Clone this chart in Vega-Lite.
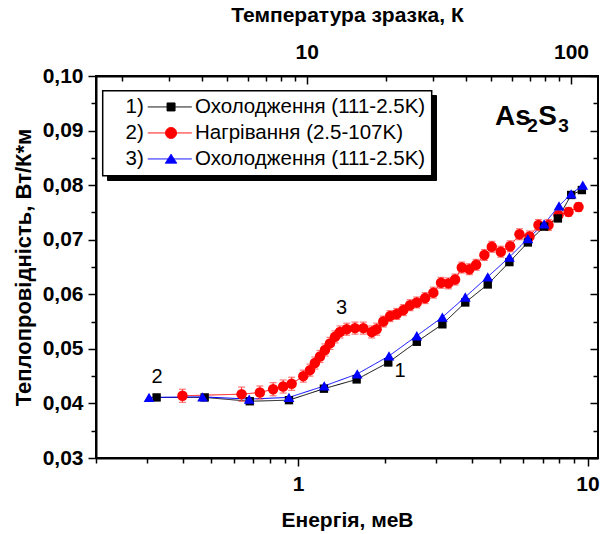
{
  "$schema": "https://vega.github.io/schema/vega-lite/v6.json",
  "width": 502,
  "height": 382,
  "autosize": {"type": "none"},
  "padding": {"left": 96, "top": 76, "right": 11, "bottom": 76},
  "background": "white",
  "config": {
    "view": {"stroke": "black", "strokeWidth": 2},
    "font": "Liberation Sans",
    "axis": {
      "grid": false,
      "domainColor": "black",
      "domainWidth": 2,
      "tickColor": "black",
      "tickWidth": 1.5,
      "labelColor": "black",
      "titleColor": "black",
      "labelFont": "Liberation Sans",
      "titleFont": "Liberation Sans",
      "labelFontSize": 21,
      "labelFontWeight": "bold",
      "titleFontSize": 21,
      "titleFontWeight": "bold"
    }
  },
  "datasets": {
    "d": [
      {"s": "s2", "E": 0.398, "v": 0.0414, "err": 0.0012},
      {"s": "s2", "E": 0.637, "v": 0.0417, "err": 0.0013},
      {"s": "s2", "E": 0.737, "v": 0.0420, "err": 0.0012},
      {"s": "s2", "E": 0.819, "v": 0.0426, "err": 0.0012},
      {"s": "s2", "E": 0.887, "v": 0.0431, "err": 0.0012},
      {"s": "s2", "E": 0.949, "v": 0.0436, "err": 0.0012},
      {"s": "s2", "E": 1.041, "v": 0.0450, "err": 0.0011},
      {"s": "s2", "E": 1.098, "v": 0.0461, "err": 0.0011},
      {"s": "s2", "E": 1.142, "v": 0.0474, "err": 0.0011},
      {"s": "s2", "E": 1.189, "v": 0.0486, "err": 0.0011},
      {"s": "s2", "E": 1.237, "v": 0.0498, "err": 0.0011},
      {"s": "s2", "E": 1.287, "v": 0.0510, "err": 0.0011},
      {"s": "s2", "E": 1.340, "v": 0.0522, "err": 0.0011},
      {"s": "s2", "E": 1.394, "v": 0.0531, "err": 0.0011},
      {"s": "s2", "E": 1.471, "v": 0.0536, "err": 0.0011},
      {"s": "s2", "E": 1.571, "v": 0.0538, "err": 0.0011},
      {"s": "s2", "E": 1.679, "v": 0.0538, "err": 0.0011},
      {"s": "s2", "E": 1.795, "v": 0.0531, "err": 0.0011},
      {"s": "s2", "E": 1.867, "v": 0.0536, "err": 0.0011},
      {"s": "s2", "E": 1.968, "v": 0.0550, "err": 0.0010},
      {"s": "s2", "E": 2.077, "v": 0.0560, "err": 0.0010},
      {"s": "s2", "E": 2.190, "v": 0.0564, "err": 0.0010},
      {"s": "s2", "E": 2.309, "v": 0.0571, "err": 0.0010},
      {"s": "s2", "E": 2.435, "v": 0.0580, "err": 0.0010},
      {"s": "s2", "E": 2.569, "v": 0.0585, "err": 0.0010},
      {"s": "s2", "E": 2.745, "v": 0.0593, "err": 0.0010},
      {"s": "s2", "E": 2.932, "v": 0.0603, "err": 0.0010},
      {"s": "s2", "E": 3.117, "v": 0.0621, "err": 0.0010},
      {"s": "s2", "E": 3.304, "v": 0.0620, "err": 0.0010},
      {"s": "s2", "E": 3.485, "v": 0.0627, "err": 0.0010},
      {"s": "s2", "E": 3.677, "v": 0.0649, "err": 0.0010},
      {"s": "s2", "E": 3.906, "v": 0.0646, "err": 0.0010},
      {"s": "s2", "E": 4.121, "v": 0.0654, "err": 0.0010},
      {"s": "s2", "E": 4.401, "v": 0.0672, "err": 0.0010},
      {"s": "s2", "E": 4.669, "v": 0.0687, "err": 0.0010},
      {"s": "s2", "E": 5.015, "v": 0.0678, "err": 0.0010},
      {"s": "s2", "E": 5.402, "v": 0.0688, "err": 0.0010},
      {"s": "s2", "E": 5.818, "v": 0.0710, "err": 0.0010},
      {"s": "s2", "E": 6.301, "v": 0.0706, "err": 0.0010},
      {"s": "s2", "E": 6.768, "v": 0.0727, "err": 0.0010},
      {"s": "s2", "E": 7.331, "v": 0.0727, "err": 0.0010},
      {"s": "s2", "E": 7.936, "v": 0.0745, "err": 0.0008},
      {"s": "s2", "E": 8.598, "v": 0.0751, "err": 0.0008},
      {"s": "s2", "E": 9.309, "v": 0.0760, "err": 0.0008},
      {"s": "s1", "E": 0.324, "v": 0.0411},
      {"s": "s1", "E": 0.475, "v": 0.0411},
      {"s": "s1", "E": 0.680, "v": 0.0404},
      {"s": "s1", "E": 0.929, "v": 0.0406},
      {"s": "s1", "E": 1.227, "v": 0.0427},
      {"s": "s1", "E": 1.592, "v": 0.0444},
      {"s": "s1", "E": 2.048, "v": 0.0475},
      {"s": "s1", "E": 2.57, "v": 0.0513},
      {"s": "s1", "E": 3.15, "v": 0.0545},
      {"s": "s1", "E": 3.78, "v": 0.0585},
      {"s": "s1", "E": 4.52, "v": 0.0618},
      {"s": "s1", "E": 5.37, "v": 0.0659},
      {"s": "s1", "E": 6.22, "v": 0.0695},
      {"s": "s1", "E": 7.08, "v": 0.0724},
      {"s": "s1", "E": 7.90, "v": 0.0739},
      {"s": "s1", "E": 8.78, "v": 0.0782},
      {"s": "s1", "E": 9.56, "v": 0.0791},
      {"s": "s3", "E": 0.305, "v": 0.0411},
      {"s": "s3", "E": 0.467, "v": 0.0412},
      {"s": "s3", "E": 0.677, "v": 0.0408},
      {"s": "s3", "E": 0.929, "v": 0.0411},
      {"s": "s3", "E": 1.23, "v": 0.0432},
      {"s": "s3", "E": 1.60, "v": 0.0454},
      {"s": "s3", "E": 2.06, "v": 0.0487},
      {"s": "s3", "E": 2.57, "v": 0.0524},
      {"s": "s3", "E": 3.15, "v": 0.0558},
      {"s": "s3", "E": 3.78, "v": 0.0595},
      {"s": "s3", "E": 4.52, "v": 0.0632},
      {"s": "s3", "E": 5.37, "v": 0.0668},
      {"s": "s3", "E": 6.22, "v": 0.0702},
      {"s": "s3", "E": 7.08, "v": 0.0729},
      {"s": "s3", "E": 7.97, "v": 0.0762},
      {"s": "s3", "E": 8.78, "v": 0.0784},
      {"s": "s3", "E": 9.63, "v": 0.0800}
    ],
    "ann": [
      {"E": 0.325, "v": 0.0448, "t": "2"},
      {"E": 1.413, "v": 0.0574, "t": "3"},
      {"E": 2.248, "v": 0.0460, "t": "1"}
    ],
    "formulaBig": [
      {"E": 4.79, "v": 0.0910, "t": "As"},
      {"E": 6.751, "v": 0.0910, "t": "S"}
    ],
    "formulaSub": [
      {"E": 6.184, "v": 0.0898, "t": "2"},
      {"E": 7.918, "v": 0.0898, "t": "3"}
    ]
  },
  "data": {"name": "d"},
  "layer": [
    {
      "encoding": {
        "x": {"field": "E", "type": "quantitative",
          "scale": {"type": "log", "domain": [0.2, 10.87], "nice": false},
          "axis": {"orient": "bottom", "values": [1, 10], "format": "d", "tickSize": 8, "labelPadding": 7.5,
            "title": "Енергія, меВ", "titlePadding": 15}},
        "y": {"field": "v", "type": "quantitative",
          "scale": {"domain": [0.03, 0.1], "nice": false, "zero": false},
          "axis": {"orient": "left", "values": [0.03, 0.04, 0.05, 0.06, 0.07, 0.08, 0.09, 0.1],
            "labelExpr": "replace(format(datum.value, '.2f'), '.', ',')",
            "tickSize": 8, "labelPadding": 5,
            "title": "Теплопровідність, Вт/К*м", "titleFontSize": 22, "titlePadding": 7}}
      },
      "layer": [
        {
          "mark": {"type": "line", "strokeWidth": 1},
          "encoding": {
            "color": {"field": "s", "type": "nominal",
              "scale": {"range": ["black", "#ff0000", "#0000ff"]},
              "legend": {
                "orient": "none", "legendX": 11, "legendY": 19, "title": null,
                "fillColor": "black", "strokeColor": "black", "padding": 6, "rowPadding": 5,
                "labelFont": "Liberation Sans", "labelFontSize": 20.5, "labelColor": "black", "labelOpacity": 0, "labelLimit": 0,
                "symbolSize": 100, "symbolOpacity": 0, "symbolStrokeWidth": 1.5, "labelOffset": -3.7,
                "labelExpr": "datum.value === 's2' ? '2)\u00a0\u00a0\u00a0\u00a0\u00a0\u00a0\u00a0\u00a0\u00a0Нагрівання (2.5-107K)' : datum.value === 's1' ? '1)\u00a0\u00a0\u00a0\u00a0\u00a0\u00a0\u00a0\u00a0\u00a0Охолодження (111-2.5K)' : '3)\u00a0\u00a0\u00a0\u00a0\u00a0\u00a0\u00a0\u00a0\u00a0Охолодження (111-2.5K)'"
              }},
            "strokeDash": {"field": "s", "type": "nominal",
              "scale": {"domain": ["s1", "s2", "s3"], "range": [[1, 0], [1, 0], [1, 0]]},
              "legend": {
                "orient": "none", "legendX": 6.7, "legendY": 14.7, "title": null,
                "fillColor": "white", "strokeColor": "black", "padding": 6, "rowPadding": 5,
                "labelFont": "Liberation Sans", "labelFontSize": 20.5, "labelColor": "black", "labelLimit": 0,
                "symbolSize": 100, "symbolStrokeWidth": 1.5, "labelOffset": -3.7,
                "labelExpr": "datum.value === 's2' ? '2)\u00a0\u00a0\u00a0\u00a0\u00a0\u00a0\u00a0\u00a0\u00a0Нагрівання (2.5-107K)' : datum.value === 's1' ? '1)\u00a0\u00a0\u00a0\u00a0\u00a0\u00a0\u00a0\u00a0\u00a0Охолодження (111-2.5K)' : '3)\u00a0\u00a0\u00a0\u00a0\u00a0\u00a0\u00a0\u00a0\u00a0Охолодження (111-2.5K)'",
                "encode": {
                  "legend": {"update": {"strokeWidth": {"value": 1.5}}},
                  "symbols": {"update": {
                    "shape": {"signal": "datum.value === 's1' ? 'M5.76,0H14.56M9.62,-0.8H11.22V0.8H9.62Z' : datum.value === 's2' ? 'M5.76,0H14.56M11.52,0A1.1,1.1 0 1,1 9.32,0A1.1,1.1 0 1,1 11.52,0Z' : 'M5.76,0H14.56M10.42,-0.95L11.57,0.85H9.27Z'"},
                    "fill": {"signal": "datum.value === 's1' ? 'black' : datum.value === 's2' ? '#ff0000' : '#0000ff'"},
                    "stroke": {"signal": "datum.value === 's1' ? 'black' : datum.value === 's2' ? '#ff0000' : '#0000ff'"},
                    "strokeWidth": {"value": 1},
                    "strokeDash": {"value": [1, 0]},
                    "opacity": {"value": 1},
                    "fillOpacity": {"value": 1},
                    "strokeOpacity": {"value": 1}
                  }}
                }
              }}
          }
        },
        {
          "transform": [{"filter": "datum.s === 's2'"}],
          "mark": {"type": "errorbar", "ticks": {"size": 7}, "color": "#ff4040", "thickness": 1.2},
          "encoding": {"yError": {"field": "err"}}
        },
        {
          "transform": [{"filter": "datum.s === 's2'"}],
          "mark": {"type": "point", "shape": "circle", "filled": true, "color": "#ff0000", "opacity": 1, "size": 110}
        },
        {
          "transform": [{"filter": "datum.s === 's1'"}],
          "mark": {"type": "point", "shape": "square", "filled": true, "color": "black", "opacity": 1, "size": 70}
        },
        {
          "transform": [{"filter": "datum.s === 's3'"}],
          "mark": {"type": "point", "shape": "triangle-up", "filled": true, "color": "#0000ff", "opacity": 1, "size": 115}
        },
        {
          "data": {"name": "ann"},
          "mark": {"type": "text", "font": "Liberation Sans", "fontSize": 20, "color": "black", "align": "center", "baseline": "middle"},
          "encoding": {"text": {"field": "t"}}
        },
        {
          "data": {"name": "formulaBig"},
          "mark": {"type": "text", "font": "Liberation Sans", "fontSize": 28, "fontWeight": "bold", "color": "black", "align": "left", "baseline": "alphabetic"},
          "encoding": {"text": {"field": "t"}}
        },
        {
          "data": {"name": "formulaSub"},
          "mark": {"type": "text", "font": "Liberation Sans", "fontSize": 19, "fontWeight": "bold", "color": "black", "align": "left", "baseline": "alphabetic"},
          "encoding": {"text": {"field": "t"}}
        }
      ]
    },
    {
      "mark": {"type": "point", "opacity": 0},
      "encoding": {
        "x": {"field": "E", "type": "quantitative",
          "scale": {"type": "log", "domain": [0.2, 10.87], "nice": false},
          "axis": {"orient": "bottom", "values": [0.2, 0.3, 0.4, 0.5, 0.6, 0.7, 0.8, 0.9, 2, 3, 4, 5, 6, 7, 8, 9],
            "tickSize": 5, "labels": false, "domain": false, "title": null}},
        "y": {"field": "v", "type": "quantitative",
          "scale": {"domain": [0.03, 0.1], "nice": false, "zero": false},
          "axis": {"orient": "left", "values": [0.035, 0.045, 0.055, 0.065, 0.075, 0.085, 0.095],
            "tickSize": 5, "labels": false, "domain": false, "title": null}}
      }
    },
    {
      "mark": {"type": "point", "opacity": 0},
      "encoding": {
        "x": {"field": "E", "type": "quantitative",
          "scale": {"type": "log", "domain": [1.595, 126.5], "nice": false},
          "axis": {"orient": "top", "values": [10, 100], "format": "d", "tickSize": -8, "labelPadding": 22,
            "title": "Температура зразка, К", "titlePadding": 15.5}},
        "y": {"field": "v", "type": "quantitative",
          "scale": {"domain": [0.03, 0.1], "nice": false, "zero": false},
          "axis": {"orient": "right", "values": [0.03, 0.04, 0.05, 0.06, 0.07, 0.08, 0.09, 0.1],
            "tickSize": -8, "labels": false, "domain": false, "title": null}}
      }
    },
    {
      "mark": {"type": "point", "opacity": 0},
      "encoding": {
        "x": {"field": "E", "type": "quantitative",
          "scale": {"type": "log", "domain": [1.595, 126.5], "nice": false},
          "axis": {"orient": "top", "values": [2, 3, 4, 5, 6, 7, 8, 9, 20, 30, 40, 50, 60, 70, 80, 90],
            "tickSize": -5, "labels": false, "domain": false, "title": null}},
        "y": {"field": "v", "type": "quantitative",
          "scale": {"domain": [0.03, 0.1], "nice": false, "zero": false},
          "axis": {"orient": "right", "values": [0.035, 0.045, 0.055, 0.065, 0.075, 0.085, 0.095],
            "tickSize": -5, "labels": false, "domain": false, "title": null}}
      }
    }
  ],
  "resolve": {"scale": {"x": "independent"}, "axis": {"x": "independent", "y": "independent"}}
}
